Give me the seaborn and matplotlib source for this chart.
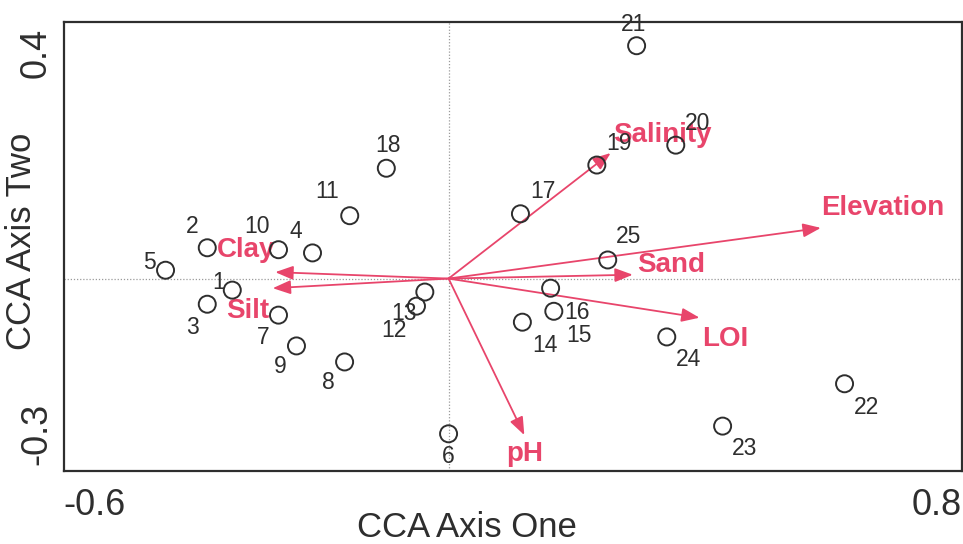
import matplotlib
matplotlib.use("Agg")
import matplotlib.pyplot as plt
import seaborn as sns
import pandas as pd

# Sample scores on the first two CCA axes
sample_ids = [str(i) for i in range(1, 26)]
axis_one = [-0.337, -0.376, -0.376, -0.212, -0.441, 0.000, -0.265, -0.162, -0.237, -0.265,
            -0.154, -0.050, -0.037, 0.115, 0.164, 0.159, 0.112, -0.097, 0.231, 0.354,
            0.293, 0.617, 0.427, 0.340, 0.248]
axis_two = [-0.018, 0.048, -0.040, 0.040, 0.013, -0.242, -0.057, -0.130, -0.105, 0.045,
            0.098, -0.043, -0.021, -0.068, -0.051, -0.015, 0.101, 0.172, 0.177, 0.208,
            0.363, -0.164, -0.230, -0.091, 0.029]

# Environmental variable biplot arrows
env_names = ["Salinity", "Elevation", "Sand", "LOI", "pH", "Clay", "Silt"]
env_one = [0.2525, 0.580, 0.287, 0.391, 0.118, -0.270, -0.274]
env_two = [0.1957, 0.079, 0.006, -0.061, -0.244, 0.010, -0.015]

# Axis extents and tick positions
x_ticks = [-0.6, -0.4, -0.2, 0.0, 0.2, 0.4, 0.6, 0.8]
y_ticks = [-0.3, -0.2, -0.1, 0.0, 0.1, 0.2, 0.3, 0.4]

# Label placement (pixel offsets from each point / arrow tip)
sample_offsets = {
    "1": (-14, 8), "2": (-15, 21), "3": (-15, -23), "4": (-17, 21), "5": (-16, 8),
    "6": (0, -23), "7": (-15, -22), "8": (-16, -21), "9": (-16, -21), "10": (-21, 23),
    "11": (-23, 24), "12": (-23, -24), "13": (-21, -21), "14": (23, -23), "15": (25, -24),
    "16": (26, -24), "17": (22, 22), "18": (2, 23), "19": (22, 22), "20": (22, 22),
    "21": (-3, 21), "22": (22, -24), "23": (22, -22), "24": (22, -23), "25": (21, 23),
}
env_offsets = {
    "Salinity": (52, 18), "Elevation": (62, 20), "Sand": (38, 10), "LOI": (26, -21),
    "pH": (0, -19), "Clay": (-29, 22), "Silt": (-25, -23),
}

RED = "#e8456b"
INK = "#2e2e2e"

sns.set_theme(style="white")
plt.rcParams["font.family"] = ["Liberation Sans", "DejaVu Sans"]

fig = plt.figure(figsize=(9.63, 5.44), dpi=100)
ax = fig.add_axes([63.5 / 963, 73 / 544, 898.5 / 963, 449 / 544])

samples = pd.DataFrame({"id": sample_ids, "ax1": axis_one, "ax2": axis_two})
env = pd.DataFrame({"name": env_names, "ax1": env_one, "ax2": env_two})

# dotted origin cross-hairs
ax.axhline(0, color="#9a9a9a", lw=0.9, ls=(0, (1, 1.5)), zorder=1)
ax.axvline(0, color="#9a9a9a", lw=0.9, ls=(0, (1, 1.5)), zorder=1)

# environmental arrows
for _, r in env.iterrows():
    ax.annotate("", xy=(r.ax1, r.ax2), xytext=(0, 0),
                arrowprops=dict(arrowstyle="-|>,head_length=0.9,head_width=0.35",
                                mutation_scale=12, color=RED, lw=1.3,
                                shrinkA=0, shrinkB=0), zorder=2)
    dx, dy = env_offsets[r["name"]]
    ax.annotate(r["name"], xy=(r.ax1, r.ax2), xytext=(dx, dy),
                textcoords="offset pixels", ha="center", va="center",
                fontsize=20, fontweight="bold", color=RED, zorder=3)

# sample points
sns.scatterplot(data=samples, x="ax1", y="ax2", ax=ax, marker="o", s=150,
                facecolor="none", edgecolor=INK, linewidth=1.4, zorder=4, legend=False)
for _, r in samples.iterrows():
    dx, dy = sample_offsets[r["id"]]
    ax.annotate(r["id"], xy=(r.ax1, r.ax2), xytext=(dx, dy),
                textcoords="offset pixels", ha="center", va="center",
                fontsize=16.5, color=INK, zorder=5)

ax.set_xlim(x_ticks[0], x_ticks[-1])
ax.set_ylim(y_ticks[0], y_ticks[-1])
ax.set_xticks(x_ticks)
ax.set_yticks(y_ticks)
ax.tick_params(axis="both", direction="inout", length=8, width=1.3, color=INK,
               labelbottom=False, labelleft=False)
for side in ["left", "bottom", "top", "right"]:
    ax.spines[side].set_visible(True)
    ax.spines[side].set_color(INK)
    ax.spines[side].set_linewidth(1.6)

# only the extreme values are labelled on each axis
tick_font = dict(fontsize=26, color=INK)
ax.annotate(f"{x_ticks[0]:g}", xy=(0, 0), xycoords="axes fraction", xytext=(0, -17),
            textcoords="offset pixels", ha="left", va="top", **tick_font)
ax.annotate(f"{x_ticks[-1]:g}", xy=(1, 0), xycoords="axes fraction", xytext=(0, -17),
            textcoords="offset pixels", ha="right", va="top", **tick_font)
ax.annotate(f"{y_ticks[-1]:g}", xy=(0, 1), xycoords="axes fraction", xytext=(-27, -6),
            textcoords="offset pixels", ha="center", va="top", rotation=90, **tick_font)
ax.annotate(f"{y_ticks[0]:g}", xy=(0, 0), xycoords="axes fraction", xytext=(-27, 6),
            textcoords="offset pixels", ha="center", va="bottom", rotation=90, **tick_font)

ax.set_xlabel("CCA Axis One", fontsize=25, color=INK, va="top")
ax.set_ylabel("CCA Axis Two", fontsize=25, color=INK)
ax.xaxis.set_label_coords(0.449, -0.09)
ax.yaxis.set_label_coords(-0.028, 0.512)

fig.savefig("out.png", dpi=100)
